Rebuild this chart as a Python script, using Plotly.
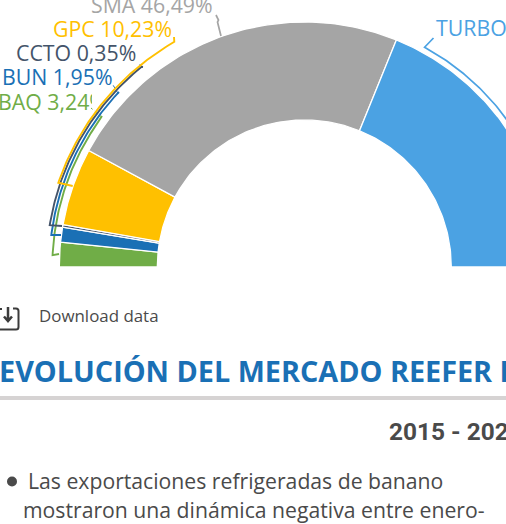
import numpy as np
import plotly.graph_objects as go

names = ["BAQ", "BUN", "CCTO", "GPC", "SMA", "TURBO"]
shares = [3.24, 1.95, 0.35, 10.23, 46.49, 37.74]
share_labels = ["3,24%", "1,95%", "0,35%", "10,23%", "46,49%", "37,74%"]
colors = ["#70ad47", "#1a70b5", "#44546a", "#ffc000", "#a5a5a5", "#4ba2e3"]

title_text = "EVOLUCIÓN DEL MERCADO REEFER DE BANANO"
period_text = "2015 - 2020"
body_lines = ["Las exportaciones refrigeradas de banano", "mostraron una dinámica negativa entre enero-"]
download_text = "Download data"

CX, CY, R_OUT, R_IN = 304.3, 267.0, 245.0, 147.0
FONT = "Open Sans"


def pt(deg, r):
    a = np.radians(deg)
    return CX - r * np.cos(a), CY - r * np.sin(a)


fig = go.Figure()

# donut sectors, from the shares
edges = np.concatenate([[0], np.cumsum(shares)]) / sum(shares) * 180
for i, name in enumerate(names):
    t = np.linspace(edges[i], edges[i + 1], 80)
    xo, yo = pt(t, R_OUT)
    xi, yi = pt(t[::-1], R_IN)
    fig.add_trace(go.Scatter(
        x=np.r_[xo, xi, xo[0]], y=np.r_[yo, yi, yo[0]], mode="lines", fill="toself",
        fillcolor=colors[i], line=dict(color="white", width=1.3), name=name, hoverinfo="name",
    ))

# labels: (x of left edge, y of middle)
label_pos = {"SMA": (91, 8), "GPC": (53, 32), "CCTO": (16, 56), "BUN": (2, 80), "BAQ": (-2, 105), "TURBO": (436, 31)}
for i, name in enumerate(names):
    x, y = label_pos[name]
    fig.add_trace(go.Scatter(
        x=[x], y=[y], mode="text", text=[f"{name} {share_labels[i]}"], textposition="middle right",
        textfont=dict(family=FONT, size=21.3, color=colors[i]), hoverinfo="skip",
    ))

# white mask that hides the end of the BAQ label
fig.add_trace(go.Scatter(x=[92, 106, 106, 92, 92], y=[92, 92, 113, 113, 92], mode="lines", fill="toself",
                         fillcolor="white", line=dict(width=0), hoverinfo="skip"))

# leader arcs: index, radius, start angle, end angle, inner tick point, outer tick point, end connector
leaders = [
    (0, 252, 2.7, 36.5, (59, 254), (102, 116), (91, 108)),
    (1, 255, 7.2, 43.0, (61, 235), (119, 92), (113, 85)),
    (2, 258, 9.35, 50.9, (62, 226), (143, 67), (138, 62)),
    (3, 260, 18.9, 60.0, (72.7, 186), (174, 37), None),
]
for idx, r, a0, a1, inner, outer, conn in leaders:
    t = np.linspace(a0, a1, 70)
    ax, ay = pt(t, r)
    xs = np.r_[inner[0], ax, outer[0]]
    ys = np.r_[inner[1], ay, outer[1]]
    fig.add_trace(go.Scatter(x=xs, y=ys, mode="lines", line=dict(color=colors[idx], width=1.9), hoverinfo="skip"))
    if conn:
        fig.add_trace(go.Scatter(x=[ax[-1], conn[0]], y=[ay[-1], conn[1]], mode="lines",
                                 line=dict(color=colors[idx], width=1, dash="dot"), hoverinfo="skip"))

# SMA leader
fig.add_trace(go.Scatter(x=[221, 217.5, 218.5, 216], y=[36, 22, 20, 15], mode="lines",
                         line=dict(color=colors[4], width=1.7), hoverinfo="skip"))
# TURBO leader
t = np.linspace(118.7, 145, 50)
ax, ay = pt(t, 250.5)
fig.add_trace(go.Scatter(x=np.r_[433.5, ax], y=np.r_[38, ay], mode="lines",
                         line=dict(color=colors[5], width=1.7), hoverinfo="skip"))

# page text
def text(x, y, s, size, color, family=FONT, bold=False):
    fig.add_trace(go.Scatter(
        x=[x], y=[y], mode="text", text=[f"<b>{s}</b>" if bold else s], textposition="middle right",
        textfont=dict(family=family, size=size, color=color), hoverinfo="skip",
    ))

text(39, 318, download_text, 16.9, "#4a4a4a")
text(-1, 375, title_text, 28.8, "#1a70b5", bold=True)
text(389, 434, period_text, 24.4, "#4a4a4a", family="Roboto", bold=True)
text(28, 484, body_lines[0], 21.2, "#4a4a4a")
text(23, 513, body_lines[1], 21.2, "#4a4a4a")

fig.add_trace(go.Scatter(x=[12], y=[481.5], mode="markers", marker=dict(size=10, color="#4a4a4a"), hoverinfo="skip"))

shapes = [
    dict(type="rect", x0=0, x1=506, y0=396, y1=400, fillcolor="#d6d3d3", line=dict(width=0)),
    # download icon
    dict(type="path", path="M 13 308.5 L 16 308.5 Q 18.5 308.5 18.5 311 L 18.5 327 Q 18.5 329.5 16 329.5 L 0 329.5",
         line=dict(color="#3c3c3c", width=2)),
    dict(type="path", path="M 8 307 L 8 321 M 4 316.5 L 8 321 L 12 316.5", line=dict(color="#3c3c3c", width=2.5)),
    dict(type="line", x0=0, x1=2, y0=309, y1=309, line=dict(color="#3c3c3c", width=2)),
]

fig.update_layout(
    width=506, height=524, margin=dict(l=0, r=0, t=0, b=0), showlegend=False,
    paper_bgcolor="white", plot_bgcolor="white", shapes=shapes,
    xaxis=dict(range=[0, 506], visible=False, fixedrange=True),
    yaxis=dict(range=[524, 0], visible=False, fixedrange=True),
)
fig.write_html("out.html", config={"displayModeBar": False},
               post_script="document.body.style.margin='0';document.body.style.overflow='hidden';")
